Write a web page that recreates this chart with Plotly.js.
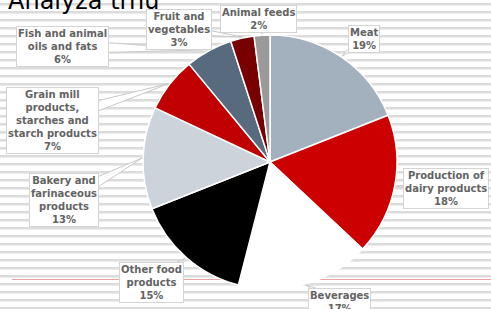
<!DOCTYPE html>
<html>
<head>
<meta charset="utf-8">
<script src="https://cdn.plot.ly/plotly-3.0.1.min.js"></script>
<style>
  html, body { margin: 0; padding: 0; }
  body {
    width: 491px; height: 309px; overflow: hidden; position: relative;
    background: repeating-linear-gradient(to bottom,
      #ffffff 0px, #ffffff 3px, #dcdcdc 3px, #dcdcdc 5px, #ececec 5px, #ececec 6px, #ffffff 6px, #ffffff 8px);
  }
  #redline { position: absolute; left: 12px; right: 0; top: 279px; height: 1px; background: #e9a3a3; }
  #chart { position: absolute; left: 0; top: 0; width: 491px; height: 309px; }
</style>
</head>
<body>
<div id="redline"></div>
<div id="chart"></div>
<script>
// ---- data ----
const categories = ["Meat", "Production of dairy products", "Beverages", "Other food products",
  "Bakery and farinaceous products", "Grain mill products, starches and starch products",
  "Fish and animal oils and fats", "Fruit and vegetables", "Animal feeds"];
const labelLines = ["Meat", "Production of<br>dairy products", "Beverages", "Other food<br>products",
  "Bakery and<br>farinaceous<br>products", "Grain mill<br>products,<br>starches and<br>starch products",
  "Fish and animal<br>oils and fats", "Fruit and<br>vegetables", "Animal feeds"];
const shares = [19, 18, 17, 15, 13, 7, 6, 3, 2];
const colors = ["#A3B1BF", "#CC0000", "#FFFFFF", "#000000", "#CDD3DB", "#C00000", "#576A7E", "#780000", "#9A9A9A"];

// ---- layout (pixels) ----
const W = 491, H = 309;
const CX = 270, CY = 162, R = 127;
const boxCenters = [[363.5, 39], [446, 188.5], [339.5, 302], [151.5, 282.5], [63.5, 200],
  [52.5, 120], [62, 46.5], [178.5, 29], [258, 19.5]];
const tailWidth = [5, 6, 6, 6, 8, 8, 7, 5, 5];

const px = x => x / W;
const py = y => 1 - y / H;

const total = shares.reduce((a, b) => a + b, 0);
let cum = 0;
const annotations = [];
const shapes = [];
shares.forEach((v, i) => {
  const mid = (cum + v / 2) / total * 2 * Math.PI;
  cum += v;
  const ax = CX + (R + 1) * Math.sin(mid);
  const ay = CY - (R + 1) * Math.cos(mid);
  const [bx, by] = boxCenters[i];
  const dx = ax - bx, dy = ay - by, len = Math.hypot(dx, dy);
  const nx = -dy / len * tailWidth[i], ny = dx / len * tailWidth[i];
  shapes.push({
    type: "path", xref: "paper", yref: "paper", layer: "above",
    path: `M ${px(bx + nx)} ${py(by + ny)} L ${px(ax)} ${py(ay)} L ${px(bx - nx)} ${py(by - ny)} Z`,
    fillcolor: "#FFFFFF", line: { color: "#C8C8C8", width: 1 }
  });
  annotations.push({
    xref: "paper", yref: "paper", x: px(bx), y: py(by), xanchor: "center", yanchor: "middle",
    showarrow: false, align: "center",
    text: "<b>" + labelLines[i] + "<br>" + v + "%</b>",
    font: { family: "DejaVu Sans", size: 10, color: "#636363" },
    bgcolor: "#FFFFFF", bordercolor: "#D4D4D4", borderwidth: 1, borderpad: 1
  });
});

annotations.push({
  xref: "paper", yref: "paper", x: px(6), y: py(1), xanchor: "left", yanchor: "middle",
  showarrow: false, text: "Analýza trhu",
  font: { family: "DejaVu Sans", size: 24, color: "#000000" }
});

const trace = {
  type: "pie", labels: categories, values: shares, sort: false, direction: "clockwise", rotation: 0,
  marker: { colors: colors, line: { color: "#FFFFFF", width: 1.5 } },
  textinfo: "none", hoverinfo: "label+percent",
  domain: { x: [px(CX - R), px(CX + R)], y: [py(CY + R), py(CY - R)] }
};

Plotly.newPlot("chart", [trace], {
  width: W, height: H, margin: { l: 0, r: 0, t: 0, b: 0 },
  paper_bgcolor: "rgba(0,0,0,0)", plot_bgcolor: "rgba(0,0,0,0)",
  showlegend: false, annotations: annotations, shapes: shapes
}, { displayModeBar: false, staticPlot: true });
</script>
</body>
</html>
